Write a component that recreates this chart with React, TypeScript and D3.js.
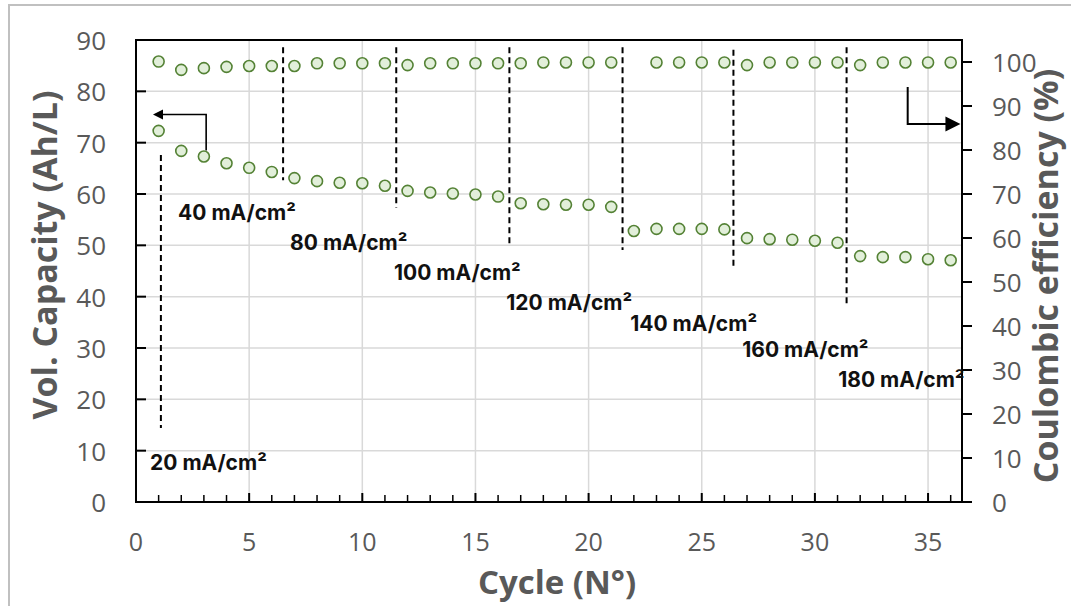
import * as d3 from 'd3';

// cycle numbers and the two measured series
const cycles = [1, 2, 3, 4, 5, 6, 7, 8, 9, 10, 11, 12, 13, 14, 15, 16, 17, 18, 19, 20, 21, 22, 23, 24, 25, 26, 27, 28, 29, 30, 31, 32, 33, 34, 35, 36];
const capacity = [72.3, 68.4, 67.3, 66.0, 65.1, 64.3, 63.1, 62.5, 62.2, 62.1, 61.6, 60.6, 60.3, 60.1, 59.9, 59.5, 58.2, 58.0, 57.9, 57.9, 57.5, 52.8, 53.2, 53.2, 53.2, 53.1, 51.4, 51.2, 51.1, 50.9, 50.5, 47.9, 47.7, 47.7, 47.3, 47.1];
const efficiency = [100.1, 98.2, 98.6, 98.9, 99.1, 99.1, 99.1, 99.7, 99.7, 99.7, 99.7, 99.3, 99.7, 99.7, 99.7, 99.7, 99.7, 99.9, 99.9, 99.9, 99.9, null, 99.9, 99.9, 99.9, 99.9, 99.3, 99.9, 99.9, 99.9, 99.9, 99.3, 99.9, 99.9, 99.9, 99.9];

const xTicks = [0, 5, 10, 15, 20, 25, 30, 35];
const leftTicks = [0, 10, 20, 30, 40, 50, 60, 70, 80, 90];
const rightTicks = [0, 10, 20, 30, 40, 50, 60, 70, 80, 90, 100];

// current density steps: dashed separators (cycle, top, bottom on left axis)
const sepX = [1.1, 6.5, 11.5, 16.5, 21.5, 26.4, 31.4];
const sepTop = [67.6, 88.6, 88.6, 88.6, 88.6, 88.1, 88.6];
const sepBottom = [14.4, 62.7, 57.3, 50.1, 49.1, 45.8, 38.0];

const stepLabels = ['20 mA/cm²', '40 mA/cm²', '80 mA/cm²', '100 mA/cm²', '120 mA/cm²', '140 mA/cm²', '160 mA/cm²', '180 mA/cm²'];
const stepLabelX = [0.62, 1.86, 6.81, 11.4, 16.36, 21.84, 26.79, 31.03];
const stepLabelY = [6.2, 54.9, 49.1, 43.2, 37.4, 33.3, 28.2, 22.4];

const W = 1071;
const H = 606;
const left = 136, right = 962, top = 40, bottom = 502;

const x = d3.scaleLinear().domain([0, 36.5]).range([left, right]);
const yL = d3.scaleLinear().domain([0, 90]).range([bottom, top]);
const yR = d3.scaleLinear().domain([0, 105]).range([bottom, top]);

const gray = '#595959';
const grid = '#d9d9d9';
const tickFont = "'Open Sans', sans-serif";
const noteFont = "Inter, 'Noto Sans', sans-serif";

function Marker({ cx, cy }: { cx: number; cy: number }) {
  return <circle cx={cx} cy={cy} r={5.5} fill="#e2efda" stroke="#548235" strokeWidth={1.6} />;
}

export default function App() {
  const minor = cycles.filter((c) => c % 5 !== 0);

  // arrow pointing to left axis (capacity)
  const la = { x0: x(3.1), y0: yL(67.3) - 6, y1: yL(75.5), tip: x(0.75) };
  // arrow pointing to right axis (efficiency)
  const ra = { x0: x(34.1), y0: yR(94.3), y1: yR(85.9), tip: x(36.43) };

  return (
    <svg width={W} height={H} style={{ position: 'absolute', left: 0, top: 0, background: '#fff' }}>
      <rect x={9} y={5} width={W + 20} height={H + 20} fill="#fff" stroke="#c0c0c0" strokeWidth={2} />

      {/* gridlines */}
      {leftTicks.filter((t) => t > 0 && t < 90).map((t) => (
        <line key={'h' + t} x1={left} x2={right} y1={yL(t)} y2={yL(t)} stroke={grid} strokeWidth={1.5} />
      ))}
      {xTicks.filter((t) => t > 0).map((t) => (
        <line key={'v' + t} x1={x(t)} x2={x(t)} y1={top} y2={bottom} stroke={grid} strokeWidth={1.5} />
      ))}

      {/* plot frame */}
      <rect x={left} y={top} width={right - left} height={bottom - top} fill="none" stroke="#000" strokeWidth={2} />

      {/* left ticks (inside) */}
      {leftTicks.map((t) => (
        <g key={'lt' + t}>
          <line x1={left} x2={left + 10} y1={yL(t)} y2={yL(t)} stroke="#000" strokeWidth={2} />
          <text x={106} y={yL(t)} textAnchor="end" dominantBaseline="central" fontFamily={tickFont} fontSize={26} fill={gray}>{t}</text>
        </g>
      ))}

      {/* right ticks (outside) */}
      {rightTicks.map((t) => (
        <g key={'rt' + t}>
          <line x1={right} x2={right + 10} y1={yR(t)} y2={yR(t)} stroke="#000" strokeWidth={2} />
          <text x={992} y={yR(t)} textAnchor="start" dominantBaseline="central" fontFamily={tickFont} fontSize={26} fill={gray}>{t}</text>
        </g>
      ))}

      {/* bottom ticks (inside) */}
      {minor.map((c) => (
        <line key={'mx' + c} x1={x(c)} x2={x(c)} y1={bottom} y2={bottom - 7} stroke="#000" strokeWidth={1.5} />
      ))}
      {xTicks.map((t) => (
        <g key={'xt' + t}>
          <line x1={x(t)} x2={x(t)} y1={bottom} y2={bottom - 9} stroke="#000" strokeWidth={2} />
          <text x={x(t)} y={541} textAnchor="middle" dominantBaseline="central" fontFamily={tickFont} fontSize={25} fill={gray}>{t}</text>
        </g>
      ))}

      {/* axis titles */}
      <text x={557} y={594} textAnchor="middle" fontFamily={tickFont} fontWeight={700} fontSize={33} fill={gray}>Cycle (N°)</text>
      <text transform={`translate(57,255) rotate(-90)`} textAnchor="middle" fontFamily={tickFont} fontWeight={700} fontSize={34} fill={gray}>Vol. Capacity (Ah/L)</text>
      <text transform={`translate(1058,276) rotate(-90)`} textAnchor="middle" fontFamily={tickFont} fontWeight={700} fontSize={34} fill={gray}>Coulombic efficiency (%)</text>

      {/* dashed step separators */}
      {sepX.map((s, i) => (
        <line key={'sep' + i} x1={x(s)} x2={x(s)} y1={yL(sepTop[i])} y2={yL(sepBottom[i])} stroke="#000" strokeWidth={2} strokeDasharray="6,4" />
      ))}

      {/* step labels */}
      {stepLabels.map((l, i) => (
        <text key={'sl' + i} x={x(stepLabelX[i])} y={yL(stepLabelY[i])} fontFamily={noteFont} fontWeight={700} fontSize={21} fill="#111">{l}</text>
      ))}

      {/* arrows */}
      <path d={`M${la.x0},${la.y0}V${la.y1}H${la.tip + 9}`} fill="none" stroke="#000" strokeWidth={1.6} />
      <path d={`M${la.tip},${la.y1}l10,-5v10z`} fill="#000" />
      <path d={`M${ra.x0},${ra.y0}V${ra.y1}H${ra.tip - 14}`} fill="none" stroke="#000" strokeWidth={2} />
      <path d={`M${ra.tip},${ra.y1}l-15,-7.5v15z`} fill="#000" />

      {/* data */}
      {cycles.map((c, i) => (
        <Marker key={'c' + c} cx={x(c)} cy={yL(capacity[i])} />
      ))}
      {cycles.map((c, i) =>
        efficiency[i] == null ? null : <Marker key={'e' + c} cx={x(c)} cy={yR(efficiency[i] as number)} />
      )}
    </svg>
  );
}
